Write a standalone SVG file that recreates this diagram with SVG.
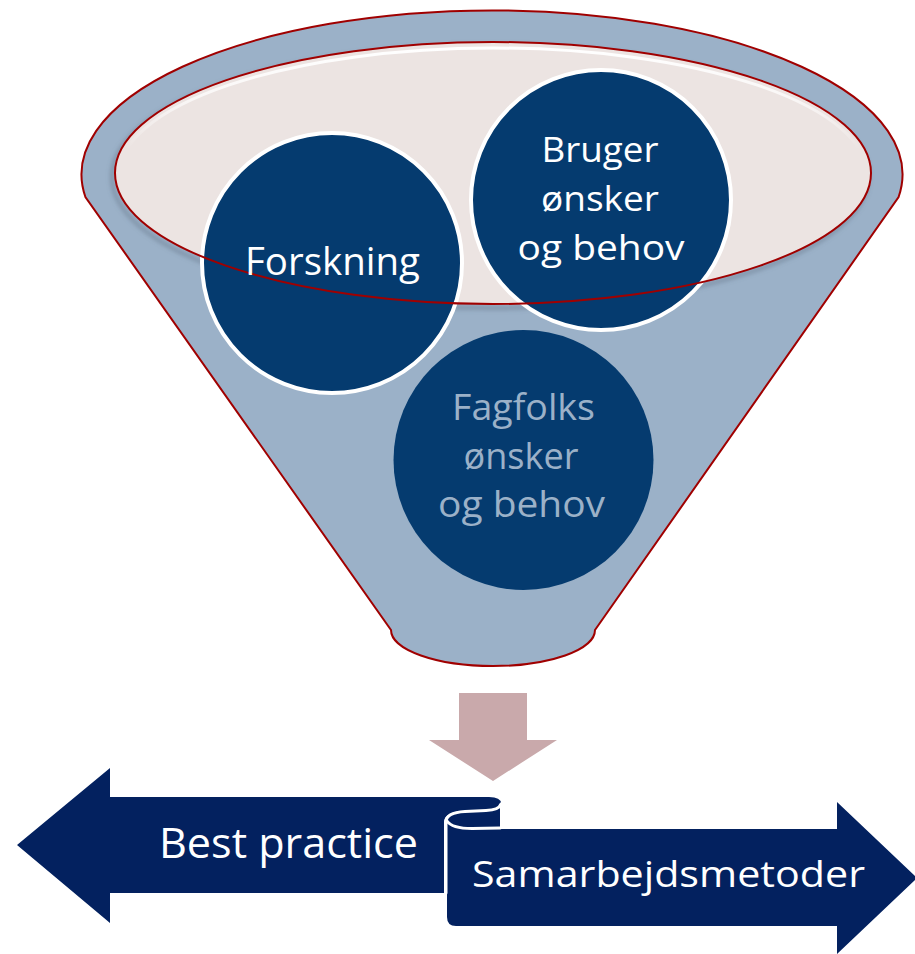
<svg xmlns="http://www.w3.org/2000/svg" width="915" height="954" viewBox="0 0 915 954">
  <defs>
    <style>
      .body { fill: #9BB1C8; stroke: #A00000; stroke-width: 2; }
      .rimfill { fill: #ECE4E2; }
      .rimline { fill: none; stroke: #A00000; stroke-width: 2; }
      .ball { fill: #053B6F; }
      .ring { stroke: #FFFFFF; stroke-width: 4; }
      .lbl { font-family: "Open Sans", "Noto Sans", "Liberation Sans", sans-serif; text-anchor: middle; }
      .white { fill: #FFFFFF; }
      .pale { fill: #9BB1C8; }
      .navy { fill: #03215F; }
      .down { fill: #C9A9AB; }
      .edge { fill: none; stroke: #FFFFFF; stroke-width: 3; stroke-linecap: round; }
    </style>
    <linearGradient id="hl" x1="0" y1="0" x2="0" y2="1">
      <stop offset="0" stop-color="#FFFFFF" stop-opacity="1"/>
      <stop offset="0.2" stop-color="#FFFFFF" stop-opacity="0.7"/>
      <stop offset="0.4" stop-color="#FFFFFF" stop-opacity="0"/>
    </linearGradient>
    <filter id="blur" x="-10%" y="-10%" width="120%" height="120%">
      <feGaussianBlur stdDeviation="2"/>
    </filter>
  </defs>

  <g id="funnel">
    <path class="body" d="M85.4,197 A410.5,164 0 1 1 898.6,197 L595,630 A102,36 0 0 1 391,630 Z"/>
    <ellipse cx="490" cy="177" rx="378" ry="131" fill="none" stroke="#5E6E80" stroke-opacity="0.45" stroke-width="4" filter="url(#blur)"/>
    <ellipse class="rimfill" cx="493" cy="173" rx="378" ry="131"/>
    <ellipse cx="493" cy="175" rx="374" ry="127" fill="none" stroke="url(#hl)" stroke-width="3"/>
  </g>

  <g id="node-forskning">
    <circle class="ball ring" cx="332" cy="263" r="130"/>
  </g>
  <g id="node-bruger">
    <circle class="ball ring" cx="601" cy="200" r="130"/>
  </g>
  <g id="node-fagfolks">
    <circle class="ball" cx="523.5" cy="460" r="130"/>
  </g>

  <g id="funnel-rim">
    <ellipse class="rimline" cx="493" cy="173" rx="378" ry="131"/>
  </g>

  <g id="labels">
    <text class="lbl white" x="332.5" y="275" font-size="38" textLength="175" lengthAdjust="spacingAndGlyphs">Forskning</text>
    <text class="lbl white" x="600" y="162" font-size="34" textLength="117" lengthAdjust="spacingAndGlyphs">Bruger</text>
    <text class="lbl white" x="600" y="211" font-size="34" textLength="118" lengthAdjust="spacingAndGlyphs">ønsker</text>
    <text class="lbl white" x="601" y="260" font-size="34" textLength="167" lengthAdjust="spacingAndGlyphs">og behov</text>
    <text class="lbl pale" x="523.5" y="420" font-size="36" textLength="143" lengthAdjust="spacingAndGlyphs">Fagfolks</text>
    <text class="lbl pale" x="521" y="469" font-size="36" textLength="115" lengthAdjust="spacingAndGlyphs">ønsker</text>
    <text class="lbl pale" x="521.5" y="517" font-size="36" textLength="167" lengthAdjust="spacingAndGlyphs">og behov</text>
  </g>

  <g id="connectors">
    <path class="down" d="M459,693 L527,693 L527,740 L557,740 L493,781 L429,740 L459,740 Z"/>
  </g>

  <g id="node-best-practice">
    <path class="navy" d="M17,845 L110,768 L110,797 L489,797 Q501,797 501,803.5 Q501,810 489,810 L465,811 Q444,812 444,822 L444,893 L110,893 L110,923 Z"/>
    <text class="lbl white" x="288.5" y="858" font-size="42" textLength="259" lengthAdjust="spacingAndGlyphs">Best practice</text>
  </g>

  <g id="node-samarbejdsmetoder">
    <path class="navy" d="M500,804 L500,829 L837,829 L837,802 L917,878 L837,954 L837,926 L456,926 Q447,926 447,917 L447,820 Q447,812 465,811 L488,810 Q500,809 500,804 Z"/>
    <path class="edge" d="M501,804 Q499,810 486,810.5 L465,811.5 Q446,812.5 446,822 L446,893"/>
    <path class="edge" d="M447,821 Q452,828.5 472,828.5 L500,828"/>
    <text class="lbl white" x="668.5" y="887" font-size="36" textLength="393" lengthAdjust="spacingAndGlyphs">Samarbejdsmetoder</text>
  </g>
</svg>
